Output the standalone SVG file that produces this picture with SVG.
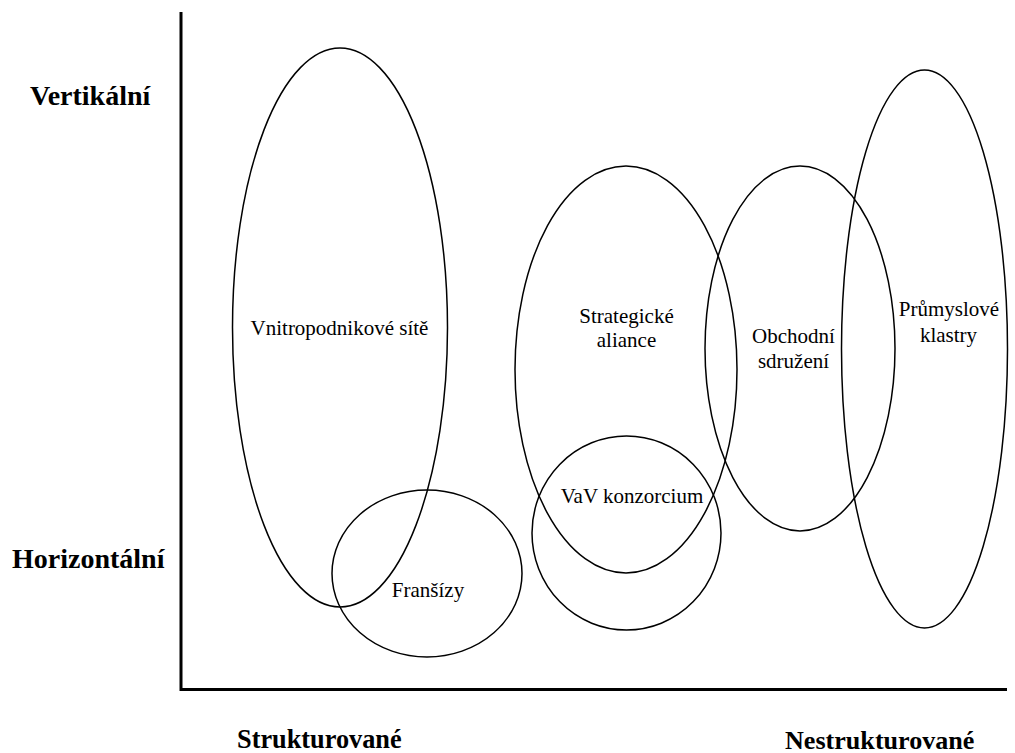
<svg xmlns="http://www.w3.org/2000/svg" width="1015" height="753" viewBox="0 0 1015 753">
  <style>
    .axis { stroke: #000; stroke-width: 3; fill: none; }
    .set { stroke: #000; stroke-width: 1.5; fill: none; }
    text { font-family: "Liberation Serif", "DejaVu Serif", serif; fill: #000; }
    .lbl { font-size: 21px; text-anchor: middle; }
    .ax { font-weight: bold; }
  </style>
  <rect width="1015" height="753" fill="#fff"/>

  <!-- axes -->
  <g id="axes">
    <path class="axis" d="M181,12 V689.5 H1007"/>
  </g>

  <!-- axis labels -->
  <g id="axis-labels">
    <text class="ax" x="30" y="105" font-size="28" font-family="Liberation Serif, serif">Vertikální</text>
    <text class="ax" x="12" y="568" font-size="28" font-family="Liberation Serif, serif">Horizontální</text>
    <text class="ax" x="237" y="748" font-size="26.3" font-family="Liberation Serif, serif">Strukturované</text>
    <text class="ax" x="785" y="749" font-size="26.1" font-family="Liberation Serif, serif">Nestrukturované</text>
  </g>

  <!-- network types -->
  <g id="vnitropodnikove">
    <ellipse class="set" cx="340" cy="327.5" rx="107.5" ry="279.5"/>
    <text class="lbl" x="339.5" y="335">Vnitropodnikové sítě</text>
  </g>
  <g id="fransizy">
    <ellipse class="set" cx="427" cy="573.5" rx="95" ry="83.5"/>
    <text class="lbl" x="428" y="597">Franšízy</text>
  </g>
  <g id="strategicke-aliance">
    <ellipse class="set" cx="626" cy="369.5" rx="111" ry="203.5"/>
    <text class="lbl" x="626.5" y="323">Strategické</text>
    <text class="lbl" x="626.5" y="347">aliance</text>
  </g>
  <g id="vav-konzorcium">
    <ellipse class="set" cx="626.5" cy="533" rx="94.5" ry="97"/>
    <text class="lbl" x="632" y="503">VaV konzorcium</text>
  </g>
  <g id="obchodni-sdruzeni">
    <ellipse class="set" cx="800" cy="348.5" rx="95" ry="182.5"/>
    <text class="lbl" x="793.5" y="343">Obchodní</text>
    <text class="lbl" x="793.5" y="368">sdružení</text>
  </g>
  <g id="prumyslove-klastry">
    <ellipse class="set" cx="924.5" cy="349" rx="83" ry="279"/>
    <text class="lbl" x="949" y="316">Průmyslové</text>
    <text class="lbl" x="948.5" y="342">klastry</text>
  </g>
</svg>
